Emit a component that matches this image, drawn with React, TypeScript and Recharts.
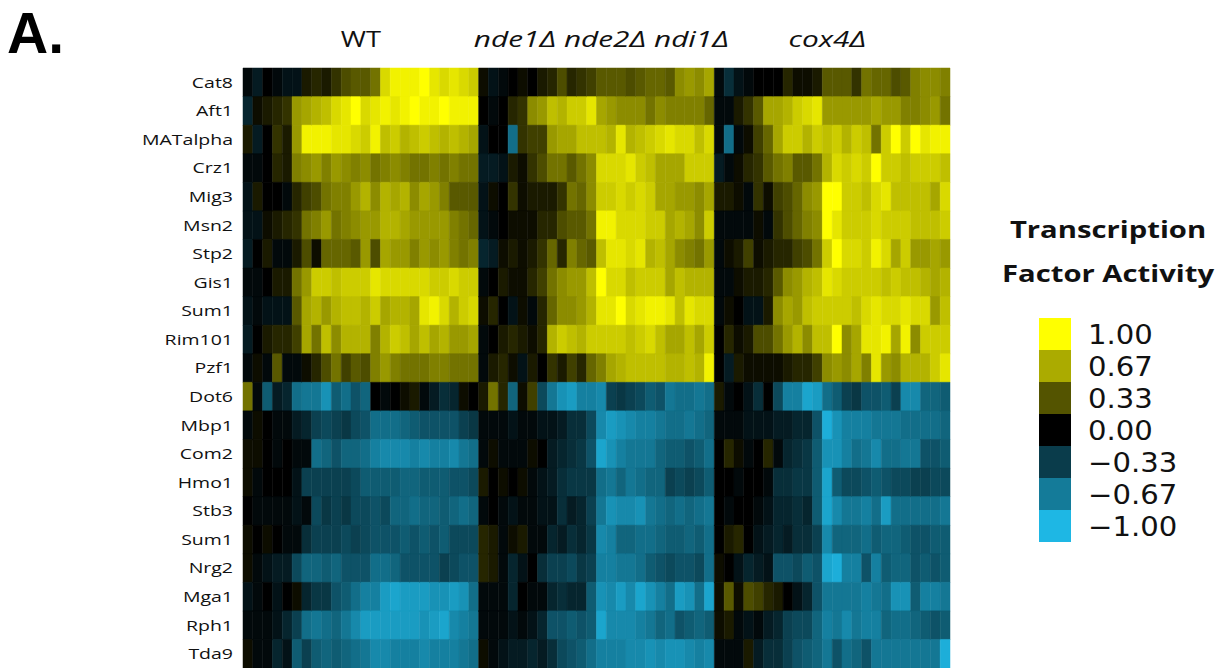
import React from "react";
import { BarChart, Bar, Cell, XAxis, YAxis } from "recharts";

// Transcription factors, top to bottom
const rowNames = [
  "Cat8", "Aft1", "MATalpha", "Crz1", "Mig3", "Msn2", "Stp2", "Gis1", "Sum1", "Rim101", "Pzf1",
  "Dot6", "Mbp1", "Com2", "Hmo1", "Stb3", "Sum1", "Nrg2", "Mga1", "Rph1", "Tda9",
];

// Strain groups shown across the top
const groupNames = ["WT", "nde1Δ nde2Δ ndi1Δ", "cox4Δ"];
const groupItalic = [false, true, true];
const groupTitleTicks = [12, 36.5, 59.5];

// Activity per factor (rows) over 24 samples, one table per strain
const wtActivity = [
  [-0.05, -0.15, 0, -0.05, -0.1, -0.1, 0.1, 0.15, 0.1, 0.2, 0.3, 0.35, 0.35, 0.45, 0.85, 0.95, 0.95, 0.95, 1.0, 0.9, 0.85, 0.9, 0.85, 0.8],
  [-0.2, 0.05, 0.1, 0.15, 0.2, 0.6, 0.65, 0.7, 0.75, 0.85, 0.9, 1.0, 0.85, 0.9, 0.95, 0.9, 0.95, 1.0, 0.95, 0.95, 1.0, 0.95, 0.95, 0.95],
  [0.1, -0.15, 0, 0.2, 0.1, 0.6, 0.95, 0.95, 0.95, 0.9, 0.9, 0.85, 0.8, 0.95, 0.75, 0.8, 0.7, 0.75, 0.8, 0.75, 0.7, 0.75, 0.7, 0.65],
  [-0.05, -0.05, 0, 0.15, 0.1, 0.5, 0.55, 0.6, 0.5, 0.6, 0.55, 0.5, 0.55, 0.45, 0.5, 0.55, 0.5, 0.45, 0.45, 0.5, 0.45, 0.5, 0.45, 0.45],
  [-0.1, 0.1, 0, 0, -0.05, 0.15, 0.25, 0.3, 0.45, 0.5, 0.5, 0.6, 0.7, 0.55, 0.7, 0.65, 0.7, 0.55, 0.65, 0.6, 0.5, 0.35, 0.35, 0.35],
  [-0.1, -0.1, 0.05, 0.1, 0.15, 0.2, 0.45, 0.5, 0.6, 0.45, 0.5, 0.55, 0.6, 0.6, 0.7, 0.7, 0.65, 0.6, 0.6, 0.6, 0.6, 0.5, 0.45, 0.4],
  [-0.15, 0, 0.1, -0.05, -0.05, 0.1, 0.3, 0.05, 0.4, 0.4, 0.4, 0.35, 0.6, 0.3, 0.65, 0.6, 0.6, 0.5, 0.6, 0.55, 0.6, 0.5, 0.45, 0.5],
  [-0.05, -0.05, 0, 0.1, 0.1, 0.45, 0.6, 0.8, 0.8, 0.75, 0.8, 0.8, 0.8, 0.9, 0.85, 0.85, 0.85, 0.85, 0.85, 0.8, 0.8, 0.85, 0.8, 0.8],
  [-0.1, -0.05, -0.1, -0.1, -0.1, 0.35, 0.65, 0.7, 0.6, 0.7, 0.75, 0.75, 0.7, 0.8, 0.65, 0.7, 0.7, 0.65, 0.9, 0.95, 0.85, 0.7, 0.8, 0.85],
  [-0.15, 0, 0.1, 0.15, 0.15, 0.25, 0.65, 0.45, 0.75, 0.55, 0.7, 0.7, 0.7, 0.5, 0.7, 0.8, 0.75, 0.65, 0.75, 0.65, 0.7, 0.6, 0.6, 0.65],
  [-0.05, 0.05, -0.05, 0.35, -0.05, -0.05, 0.05, 0.15, 0.3, 0.45, 0.25, 0.35, 0.3, 0.5, 0.6, 0.5, 0.45, 0.45, 0.45, 0.5, 0.5, 0.45, 0.45, 0.45],
  [0.45, -0.05, -0.5, -0.15, -0.2, -0.6, -0.65, -0.65, -0.8, -0.5, -0.6, -0.45, -0.55, 0, -0.05, 0, 0.05, 0.1, -0.05, -0.15, -0.25, -0.2, 0.05, 0],
  [-0.05, 0.05, 0, -0.05, -0.05, -0.15, -0.2, -0.35, -0.4, -0.35, -0.3, -0.4, -0.45, -0.6, -0.6, -0.6, -0.55, -0.5, -0.45, -0.45, -0.45, -0.45, -0.35, -0.3],
  [0.05, 0.05, 0, -0.05, 0, -0.05, -0.05, -0.6, -0.55, -0.45, -0.55, -0.55, -0.6, -0.7, -0.75, -0.75, -0.75, -0.7, -0.75, -0.7, -0.7, -0.75, -0.65, -0.6],
  [0.05, -0.05, 0, 0, 0, -0.1, -0.35, -0.35, -0.35, -0.35, -0.35, -0.4, -0.5, -0.5, -0.5, -0.5, -0.55, -0.55, -0.5, -0.5, -0.5, -0.45, -0.45, -0.4],
  [0, -0.05, -0.05, -0.05, -0.05, -0.1, -0.05, -0.4, -0.3, -0.35, -0.3, -0.4, -0.4, -0.45, -0.4, -0.55, -0.55, -0.6, -0.55, -0.55, -0.5, -0.55, -0.6, -0.55],
  [0.05, 0, 0.05, 0, -0.05, -0.05, -0.25, -0.35, -0.35, -0.35, -0.4, -0.35, -0.4, -0.45, -0.45, -0.45, -0.5, -0.45, -0.5, -0.45, -0.5, -0.4, -0.4, -0.4],
  [0.05, -0.05, -0.1, -0.15, -0.15, -0.4, -0.55, -0.55, -0.5, -0.55, -0.45, -0.45, -0.45, -0.6, -0.6, -0.55, -0.45, -0.45, -0.45, -0.45, -0.35, -0.4, -0.45, -0.45],
  [-0.1, -0.05, 0, -0.1, 0, 0.05, -0.2, -0.3, -0.3, -0.45, -0.5, -0.6, -0.7, -0.7, -0.85, -0.9, -0.85, -0.85, -0.85, -0.8, -0.8, -0.85, -0.8, -0.6],
  [-0.05, -0.05, -0.05, -0.1, -0.2, -0.35, -0.6, -0.65, -0.6, -0.55, -0.65, -0.75, -0.85, -0.85, -0.85, -0.85, -0.85, -0.85, -0.8, -0.85, -0.9, -0.75, -0.7, -0.65],
  [0.05, -0.05, -0.05, -0.2, -0.1, -0.5, -0.35, -0.5, -0.55, -0.5, -0.55, -0.6, -0.65, -0.75, -0.75, -0.7, -0.7, -0.7, -0.75, -0.7, -0.7, -0.7, -0.65, -0.6],
];

const ndeActivity = [
  [0.05, -0.1, -0.05, 0, 0.05, 0, 0.1, 0.15, 0.3, 0.15, 0.2, 0.25, 0.35, 0.35, 0.35, 0.3, 0.35, 0.4, 0.4, 0.35, 0.55, 0.6, 0.55, 0.65],
  [0, -0.05, 0, 0.15, 0.2, 0.55, 0.6, 0.75, 0.7, 0.8, 0.8, 0.9, 0.65, 0.6, 0.55, 0.55, 0.55, 0.45, 0.55, 0.5, 0.5, 0.5, 0.5, 0.4],
  [-0.1, 0, 0, -0.6, 0.2, 0.25, 0.25, 0.6, 0.65, 0.65, 0.75, 0.75, 0.75, 0.7, 0.9, 0.7, 0.75, 0.8, 0.85, 0.9, 0.85, 0.85, 0.75, 0.85],
  [-0.15, -0.15, -0.1, 0.1, 0.05, 0.2, 0.3, 0.45, 0.45, 0.35, 0.45, 0.55, 0.85, 0.85, 0.85, 0.9, 0.8, 0.75, 0.65, 0.65, 0.65, 0.8, 0.8, 0.8],
  [-0.1, 0.05, 0, 0.2, 0.05, 0.1, 0.1, 0.1, 0.2, 0.45, 0.4, 0.55, 0.8, 0.8, 0.85, 0.8, 0.85, 0.8, 0.65, 0.65, 0.6, 0.6, 0.55, 0.65],
  [-0.1, -0.05, 0, 0.05, 0.05, 0.05, 0.15, 0.15, 0.3, 0.35, 0.35, 0.45, 0.95, 0.95, 0.85, 0.85, 0.85, 0.8, 0.8, 0.65, 0.7, 0.65, 0.55, 0.8],
  [-0.2, -0.15, 0.05, 0.1, 0.05, 0.1, 0.2, 0.4, 0.15, 0.5, 0.4, 0.35, 0.75, 0.9, 0.9, 0.85, 0.9, 0.7, 0.75, 0.65, 0.55, 0.5, 0.45, 0.6],
  [-0.05, 0, 0.1, 0.05, 0.05, 0.15, 0.25, 0.45, 0.55, 0.6, 0.6, 0.75, 1.0, 0.85, 0.85, 0.75, 0.8, 0.8, 0.8, 0.65, 0.75, 0.7, 0.7, 0.7],
  [0.05, 0.15, 0, -0.1, 0.05, -0.05, 0.15, 0.4, 0.55, 0.55, 0.6, 0.7, 0.9, 0.9, 1.0, 0.85, 0.9, 0.95, 0.95, 0.9, 0.75, 0.9, 0.85, 0.85],
  [-0.05, 0, 0.1, 0.15, 0.1, 0.05, 0.15, 0.7, 0.8, 0.75, 0.7, 0.8, 0.8, 0.8, 0.8, 0.75, 0.8, 0.85, 0.75, 0.65, 0.65, 0.75, 0.65, 0.8],
  [-0.05, 0.1, 0.15, 0.05, -0.1, 0.1, 0, 0.2, 0.1, 0.25, 0.15, 0.4, 0.5, 0.65, 0.7, 0.75, 0.75, 0.75, 0.75, 0.7, 0.7, 0.75, 0.7, 0.95],
  [0.1, 0.45, 0.15, -0.55, 0.05, 0.25, -0.4, -0.65, -0.8, -0.85, -0.7, -0.7, -0.75, -0.35, -0.3, -0.35, -0.4, -0.5, -0.45, -0.65, -0.6, -0.6, -0.65, -0.6],
  [-0.05, -0.05, -0.05, -0.1, -0.05, -0.05, -0.1, -0.1, -0.15, -0.25, -0.25, -0.4, -0.75, -0.85, -0.8, -0.75, -0.7, -0.7, -0.65, -0.6, -0.6, -0.65, -0.6, -0.55],
  [-0.05, 0.05, -0.05, -0.05, -0.05, 0.05, 0, -0.15, -0.2, -0.25, -0.3, -0.45, -0.9, -0.8, -0.7, -0.65, -0.65, -0.65, -0.55, -0.5, -0.5, -0.45, -0.5, -0.6],
  [0.1, 0, 0.05, 0, 0.05, -0.05, -0.1, -0.15, -0.25, -0.3, -0.3, -0.3, -0.6, -0.65, -0.55, -0.65, -0.6, -0.55, -0.55, -0.35, -0.4, -0.35, -0.4, -0.5],
  [-0.05, 0, -0.05, -0.1, -0.05, -0.05, -0.1, -0.1, -0.25, -0.15, -0.2, -0.35, -0.65, -0.8, -0.75, -0.75, -0.8, -0.65, -0.6, -0.55, -0.6, -0.55, -0.6, -0.65],
  [0.15, 0.1, -0.05, 0.05, 0.1, -0.05, -0.05, -0.2, -0.15, -0.25, -0.2, -0.3, -0.75, -0.7, -0.55, -0.55, -0.6, -0.6, -0.55, -0.5, -0.5, -0.55, -0.5, -0.6],
  [0.15, 0.1, -0.05, -0.2, -0.1, 0, -0.25, -0.35, -0.35, -0.4, -0.3, -0.35, -0.7, -0.7, -0.65, -0.65, -0.6, -0.5, -0.45, -0.4, -0.45, -0.45, -0.4, -0.6],
  [-0.05, -0.05, -0.05, -0.2, 0, -0.05, -0.05, -0.2, -0.25, -0.2, -0.2, -0.5, -0.8, -0.75, -0.85, -0.75, -0.9, -0.8, -0.7, -0.6, -0.85, -0.8, -0.6, -0.9],
  [-0.05, -0.05, -0.05, -0.1, -0.05, -0.1, -0.2, -0.45, -0.45, -0.5, -0.45, -0.5, -0.9, -0.75, -0.75, -0.75, -0.7, -0.65, -0.55, -0.6, -0.45, -0.5, -0.55, -0.5],
  [0.05, -0.05, -0.1, -0.15, -0.15, -0.2, -0.15, -0.25, -0.4, -0.45, -0.5, -0.6, -0.7, -0.7, -0.7, -0.75, -0.75, -0.8, -0.75, -0.8, -0.8, -0.75, -0.7, -0.75],
];

const coxActivity = [
  [-0.05, -0.25, -0.1, -0.05, 0, 0, 0, 0.15, 0.05, 0.05, 0.1, 0.35, 0.35, 0.35, 0.2, 0.45, 0.4, 0.4, 0.3, 0.35, 0.5, 0.55, 0.55, 0.5],
  [-0.05, -0.05, 0.1, 0.2, 0.35, 0.65, 0.65, 0.7, 0.8, 0.85, 0.9, 0.6, 0.6, 0.6, 0.6, 0.6, 0.65, 0.6, 0.6, 0.5, 0.5, 0.55, 0.6, 0.45],
  [-0.05, -0.6, -0.05, 0.05, 0.25, 0.4, 0.65, 0.8, 0.8, 0.7, 0.8, 0.75, 0.8, 0.7, 0.8, 0.75, 0.45, 0.8, 1.0, 0.8, 1.0, 0.9, 0.95, 0.95],
  [-0.15, -0.05, 0.05, 0.15, 0.2, 0.35, 0.45, 0.5, 0.35, 0.35, 0.45, 0.7, 0.85, 0.8, 0.85, 0.8, 1.0, 0.8, 0.8, 0.75, 0.8, 0.8, 0.8, 0.75],
  [0.1, 0.1, 0.05, -0.05, 0.2, 0.05, 0.25, 0.3, 0.4, 0.55, 0.6, 1.0, 1.0, 0.8, 0.8, 0.75, 0.85, 0.9, 0.75, 0.75, 0.75, 0.75, 0.65, 0.85],
  [-0.05, -0.05, -0.05, -0.05, 0.05, -0.05, 0.2, 0.3, 0.4, 0.5, 0.55, 1.0, 0.9, 0.8, 0.8, 0.8, 0.85, 0.8, 0.8, 0.8, 0.75, 0.75, 0.75, 0.8],
  [-0.05, 0.05, 0.1, 0.25, 0.05, 0.1, 0.15, 0.15, 0.25, 0.3, 0.45, 0.8, 1.0, 0.85, 0.85, 0.8, 0.95, 0.85, 0.65, 0.8, 0.6, 0.6, 0.65, 0.6],
  [-0.05, -0.05, 0.05, 0.1, 0.1, 0.15, 0.35, 0.55, 0.6, 0.7, 0.75, 0.9, 0.85, 0.8, 0.8, 0.8, 0.8, 0.75, 0.8, 0.75, 0.75, 0.7, 0.65, 0.7],
  [-0.05, 0.05, 0, -0.1, -0.1, 0.1, 0.55, 0.65, 0.6, 0.75, 0.8, 0.8, 0.8, 0.8, 0.75, 0.85, 0.9, 0.85, 0.85, 0.9, 0.85, 0.85, 0.6, 0.75],
  [0, 0.15, 0.05, 0.1, 0.3, 0.3, 0.45, 0.6, 0.7, 0.55, 0.75, 0.75, 1.0, 0.55, 0.65, 0.9, 0.9, 0.95, 0.65, 0.95, 0.55, 0.8, 0.8, 0.8],
  [0, -0.15, 0.1, 0.05, 0.05, 0.05, 0.05, 0.1, 0.15, 0.15, 0.25, 0.55, 0.6, 0.55, 0.65, 0.5, 0.9, 0.6, 0.55, 0.7, 0.7, 0.7, 0.8, 0.9],
  [0.1, -0.05, 0, -0.1, -0.25, 0, -0.4, -0.7, -0.7, -0.9, -0.85, -0.6, -0.5, -0.35, -0.3, -0.45, -0.45, -0.5, -0.35, -0.75, -0.75, -0.55, -0.55, -0.5],
  [-0.05, -0.05, -0.05, -0.1, -0.1, -0.1, -0.15, -0.15, -0.2, -0.2, -0.45, -0.95, -0.8, -0.7, -0.7, -0.7, -0.65, -0.65, -0.65, -0.6, -0.6, -0.6, -0.6, -0.55],
  [0, 0.15, 0.05, -0.05, 0, 0.15, -0.05, -0.2, -0.25, -0.3, -0.5, -0.8, -0.8, -0.7, -0.6, -0.65, -0.75, -0.6, -0.6, -0.65, -0.65, -0.45, -0.45, -0.5],
  [0, 0, -0.05, 0, 0, -0.05, -0.25, -0.25, -0.3, -0.3, -0.5, -0.9, -0.5, -0.4, -0.4, -0.45, -0.5, -0.45, -0.4, -0.4, -0.35, -0.35, -0.4, -0.4],
  [0, -0.05, 0, 0, -0.05, -0.1, -0.2, -0.2, -0.25, -0.2, -0.5, -0.9, -0.75, -0.65, -0.65, -0.7, -0.6, -0.85, -0.6, -0.6, -0.6, -0.6, -0.6, -0.65],
  [0, 0.1, 0.15, 0, -0.1, -0.15, -0.2, -0.15, -0.25, -0.25, -0.35, -0.75, -0.55, -0.55, -0.55, -0.6, -0.5, -0.55, -0.55, -0.5, -0.45, -0.45, -0.5, -0.5],
  [0.05, 0, -0.1, -0.2, -0.15, -0.1, -0.45, -0.45, -0.4, -0.5, -0.45, -0.9, -0.95, -0.7, -0.7, -0.45, -0.7, -0.5, -0.55, -0.55, -0.45, -0.5, -0.45, -0.5],
  [0.05, 0.35, 0.05, 0.3, 0.25, 0.15, 0.1, 0, -0.1, -0.2, -0.45, -0.65, -0.65, -0.65, -0.65, -0.7, -0.65, -0.6, -0.8, -0.8, -0.5, -0.7, -0.7, -0.65],
  [0.05, 0.1, -0.05, -0.1, -0.05, -0.15, -0.2, -0.35, -0.4, -0.4, -0.55, -0.7, -0.65, -0.75, -0.65, -0.7, -0.7, -0.55, -0.6, -0.6, -0.55, -0.5, -0.45, -0.5],
  [-0.05, -0.05, -0.05, 0.1, -0.15, -0.25, -0.25, -0.35, -0.45, -0.5, -0.55, -0.65, -0.45, -0.6, -0.55, -0.45, -0.65, -0.65, -0.65, -0.65, -0.65, -0.65, -0.65, -0.95],
];

// Colour key ticks
const legendTicks = [1, 0.67, 0.33, 0, -0.33, -0.67, -1];

const groupTables = [wtActivity, ndeActivity, coxActivity];
const SAMPLES_PER_GROUP = 24;
const sampleCount = groupTables.length * SAMPLES_PER_GROUP;

const activityAt = (row: number, col: number) =>
  groupTables[Math.floor(col / SAMPLES_PER_GROUP)][row][col % SAMPLES_PER_GROUP];

// yellow for positive activity, cyan-blue for negative, black at zero
const POSITIVE_RGB = [255, 255, 0];
const NEGATIVE_RGB = [30, 183, 228];
function activityColor(v: number): string {
  const a = Math.min(1, Math.abs(v));
  const base = v >= 0 ? POSITIVE_RGB : NEGATIVE_RGB;
  return `rgb(${Math.round(base[0] * a)},${Math.round(base[1] * a)},${Math.round(base[2] * a)})`;
}

// one chart row per factor; every sample is a unit-wide segment of the stack
const chartRows = rowNames.map((_, r) => {
  const entry: Record<string, number> = { id: r };
  for (let c = 0; c < sampleCount; c++) entry[`s${c}`] = 1;
  return entry;
});

const TEXT_FONT = "'Open Sans', 'Noto Sans', sans-serif";
const STRETCH = 1.3;
const ITALIC_STRETCH = 1.42;

const RowTick = (props: any) => {
  const { x, y, payload } = props;
  return (
    <g transform={`translate(${x},${y}) scale(${STRETCH},1)`}>
      <text x={0} y={0} dy="0.36em" textAnchor="end" fontFamily={TEXT_FONT} fontSize={15} fill="#111">
        {rowNames[payload.value]}
      </text>
    </g>
  );
};

const GroupTick = (props: any) => {
  const { x, y, payload } = props;
  const i = groupTitleTicks.indexOf(payload.value);
  if (i < 0) return null;
  const s = groupItalic[i] ? ITALIC_STRETCH : STRETCH;
  return (
    <g transform={`translate(${x},${y}) scale(${s},1)`}>
      <text
        x={0}
        y={0}
        textAnchor="middle"
        fontFamily={TEXT_FONT}
        fontSize={21}
        fontStyle={groupItalic[i] ? "italic" : "normal"}
        fill="#111"
      >
        {groupNames[i]}
      </text>
    </g>
  );
};

const fmtTick = (v: number) => v.toFixed(2).replace("-", "\u2212");

function ColourKey() {
  const swX = 1039;
  const swTop = 318;
  const swH = 32;
  return (
    <svg
      width={1232}
      height={668}
      style={{ position: "absolute", left: 0, top: 0, pointerEvents: "none" }}
    >
      <text x={7} y={53} fontFamily="'Liberation Sans', Arial, sans-serif" fontWeight={700} fontSize={57} fill="#000">
        A.
      </text>
      <g transform={`translate(1108,238) scale(${STRETCH},1)`}>
        <text x={0} y={0} textAnchor="middle" fontFamily={TEXT_FONT} fontWeight={700} fontSize={22.5} fill="#111">
          Transcription
        </text>
      </g>
      <g transform={`translate(1108,282) scale(${STRETCH},1)`}>
        <text x={0} y={0} textAnchor="middle" fontFamily={TEXT_FONT} fontWeight={700} fontSize={22.5} fill="#111">
          Factor Activity
        </text>
      </g>
      {legendTicks.map((t, i) => (
        <rect key={`sw${i}`} x={swX} y={swTop + i * swH} width={32} height={swH} fill={activityColor(t)} />
      ))}
      {legendTicks.map((t, i) => (
        <g key={`lb${i}`} transform={`translate(1088,${swTop + i * swH + swH / 2 + 1}) scale(1.12,1)`}>
          <text x={0} y={0} dy="0.36em" fontFamily="'DejaVu Sans', sans-serif" fontSize={26} fill="#111">
            {fmtTick(t)}
          </text>
        </g>
      ))}
    </svg>
  );
}

export default function App() {
  return (
    <div style={{ position: "absolute", left: 0, top: 0, width: 1232, height: 668, background: "#fff" }}>
      <BarChart
        width={1232}
        height={668}
        data={chartRows}
        layout="vertical"
        margin={{ top: 28, right: 282, bottom: 0, left: 123 }}
        barCategoryGap={0}
        barGap={0}
      >
        <XAxis
          type="number"
          orientation="top"
          domain={[0, sampleCount]}
          ticks={groupTitleTicks}
          interval={0}
          height={40}
          axisLine={false}
          tickLine={false}
          tickSize={0}
          tickMargin={21}
          tick={GroupTick}
        />
        <YAxis
          type="category"
          dataKey="id"
          width={120}
          interval={0}
          axisLine={false}
          tickLine={false}
          tickSize={0}
          tickMargin={10}
          tick={RowTick}
        />
        {Array.from({ length: sampleCount }, (_, c) => (
          <Bar key={c} dataKey={`s${c}`} stackId="grid" isAnimationActive={false}>
            {rowNames.map((_, r) => {
              const fill = activityColor(activityAt(r, c));
              return <Cell key={r} fill={fill} stroke={fill} strokeWidth={0.5} />;
            })}
          </Bar>
        ))}
      </BarChart>
      <ColourKey />
    </div>
  );
}
